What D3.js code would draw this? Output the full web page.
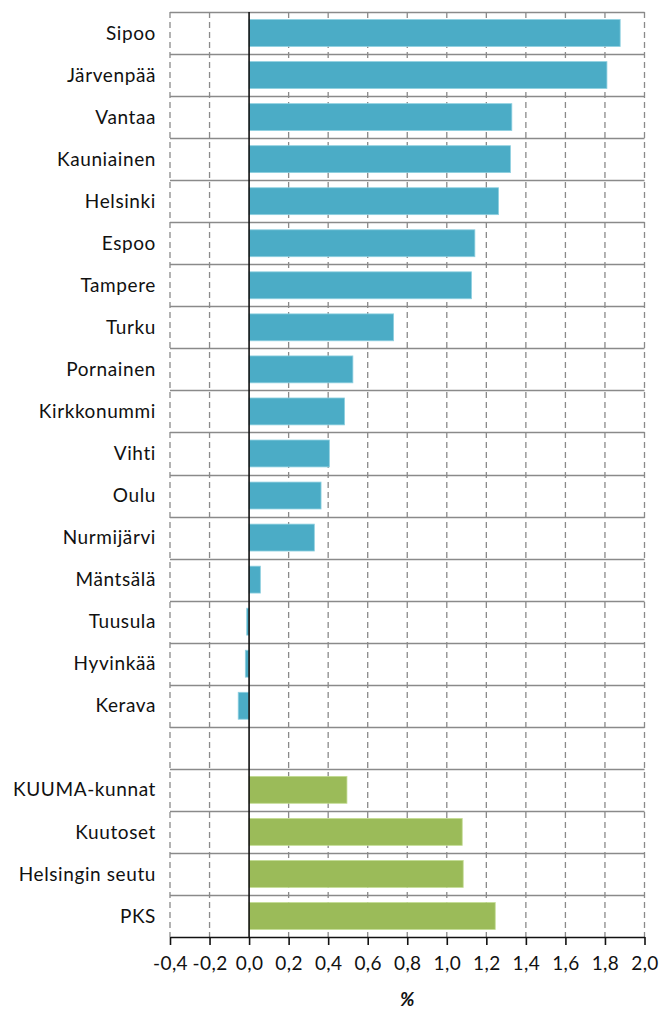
<!DOCTYPE html>
<html><head><meta charset="utf-8">
<script src="https://cdn.jsdelivr.net/npm/d3@7"></script>
<style>body{margin:0;background:#fff}svg{display:block}</style>
</head><body>
<svg id="c" width="662" height="1012"></svg>
<script>
const categories = ["Sipoo","Järvenpää","Vantaa","Kauniainen","Helsinki","Espoo","Tampere","Turku","Pornainen","Kirkkonummi","Vihti","Oulu","Nurmijärvi","Mäntsälä","Tuusula","Hyvinkää","Kerava","","KUUMA-kunnat","Kuutoset","Helsingin seutu","PKS"];
const values = [1.877,1.81,1.329,1.322,1.262,1.142,1.125,0.731,0.525,0.483,0.406,0.364,0.33,0.057,-0.012,-0.019,-0.055,null,0.495,1.078,1.083,1.245];
const groups = ["m","m","m","m","m","m","m","m","m","m","m","m","m","m","m","m","m","","r","r","r","r"];
const tickValues = [-0.4,-0.2,0,0.2,0.4,0.6,0.8,1.0,1.2,1.4,1.6,1.8,2.0];
const axisTitle = "%";
const colors = {m:"#4BACC6", r:"#9BBB59"};
const strokes = {m:"#8fd0e0", r:"#c3dc94"};

(function(){
const svg = d3.select("#c");
const FONT = "Lato, 'Open Sans', sans-serif";
const mL = 170, mR = 644.5, mT = 12, mB = 937;
const x = d3.scaleLinear().domain([-0.4,2.0]).range([mL,mR]);
const y = d3.scaleBand().domain(d3.range(categories.length)).range([mT,mB]).paddingInner(0.36).paddingOuter(0.18);
const yb = d3.scaleBand().domain(d3.range(categories.length)).range([mT,mB]);

const bounds = d3.range(categories.length).map(i=>yb(i));
svg.append("g").selectAll("line").data(bounds).join("line")
  .attr("x1",mL).attr("x2",mR).attr("y1",d=>Math.round(d)+0.5).attr("y2",d=>Math.round(d)+0.5)
  .attr("stroke","#8a8a8a").attr("stroke-width",1.3);

svg.append("g").selectAll("line").data(tickValues.filter(v=>v!==0)).join("line")
  .attr("x1",d=>x(d)).attr("x2",d=>x(d)).attr("y1",mT).attr("y2",mB)
  .attr("stroke","#8a8a8a").attr("stroke-width",1.3).attr("stroke-dasharray","6,4");

svg.append("g").selectAll("rect").data(values.map((v,i)=>({v,i})).filter(d=>d.v!==null)).join("rect")
  .attr("x",d=>x(Math.min(0,d.v))).attr("width",d=>Math.abs(x(d.v)-x(0)))
  .attr("y",d=>y(d.i)).attr("height",y.bandwidth())
  .attr("fill",d=>colors[groups[d.i]]).attr("stroke",d=>strokes[groups[d.i]]).attr("stroke-width",0.8);

svg.append("line").attr("x1",x(0)).attr("x2",x(0)).attr("y1",mT).attr("y2",mB)
  .attr("stroke","#111").attr("stroke-width",1.6);

const xa = svg.append("g").attr("transform",`translate(0,${mB})`)
  .call(d3.axisBottom(x).tickValues(tickValues).tickSize(8).tickSizeOuter(0)
    .tickFormat(d=>d3.format(".1f")(d).replace(".",",").replace("−","-")));
xa.select(".domain").attr("stroke","#111").attr("stroke-width",1.6);
xa.selectAll(".tick line").attr("stroke","#111").attr("stroke-width",1.6);
xa.selectAll(".tick text").attr("fill","#111").attr("font-family",FONT)
  .attr("font-size",19).attr("letter-spacing","0.4px").attr("dy","0.71em").attr("y",20);

svg.append("g").selectAll("text").data(categories).join("text")
  .attr("x",mL-14).attr("y",(d,i)=>yb(i)+yb.bandwidth()/2).attr("dy","0.35em")
  .attr("text-anchor","end").attr("fill","#111")
  .attr("font-family",FONT).attr("font-size",19).attr("letter-spacing","0.6px")
  .text(d=>d);

svg.append("text").attr("x",(mL+mR)/2).attr("y",1006).attr("text-anchor","middle")
  .attr("font-family",FONT).attr("font-size",19).attr("font-weight","bold").attr("font-style","italic")
  .attr("fill","#111").text(axisTitle);
})();
</script>
</body></html>
